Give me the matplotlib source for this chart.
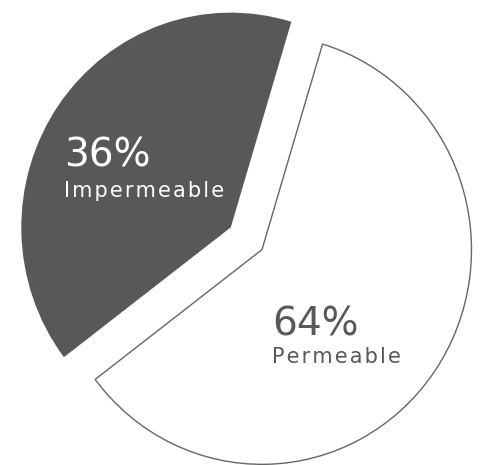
import matplotlib
matplotlib.use("Agg")
import matplotlib.pyplot as plt

# slice sizes as drawn in the picture (the boundaries sit at ~73 and ~217 deg)
shares = [40, 60]
slice_colors = ["#58585a", "#ffffff"]
pct_labels = ["36%", "64%"]
names = ["Impermeable", "Permeable"]
text_colors = ["#ffffff", "#58585a"]

fig = plt.figure(figsize=(4.81, 4.65), dpi=100)
ax = fig.add_axes([0, 0, 1, 1])

yscale = 1.025  # picture is a touch taller than wide
wedges, _ = ax.pie(shares, colors=slice_colors, startangle=73.2,
                   counterclock=True, radius=209.5,
                   center=(262, (465 - 249.6) / yscale),
                   explode=[38, 0])
wedges[0].set_edgecolor("none")
wedges[1].set_edgecolor("#666666")
wedges[1].set_linewidth(1.0)

ax.set_aspect("auto")
ax.set_xlim(0, 481)
ax.set_ylim(0, 465 / yscale)
ax.axis("off")


def spaced(s):
    # widen the tracking a little with hair spaces
    return "\u200a".join(s)


# label anchors in pixels (left, baseline)
pos_pct = [(64, 166), (272, 335)]
pos_name = [(64, 197), (272, 362.5)]
for i in range(2):
    x, y = pos_pct[i]
    ax.text(x, (465 - y) / yscale, pct_labels[i], color=text_colors[i],
            fontsize=28, family="DejaVu Sans", ha="left", va="baseline")
    x, y = pos_name[i]
    ax.text(x, (465 - y) / yscale, spaced(names[i]), color=text_colors[i],
            fontsize=15, family="DejaVu Sans", ha="left", va="baseline")

fig.savefig("out.png", dpi=100)
